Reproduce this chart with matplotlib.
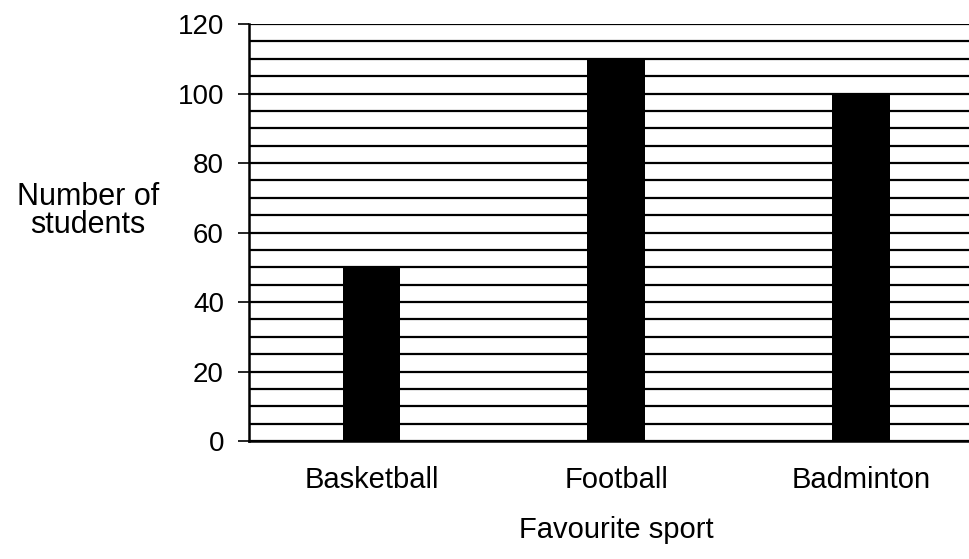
import matplotlib.pyplot as plt
import numpy as np

plt.rcParams['font.family'] = ['Liberation Sans', 'DejaVu Sans']

desportos = ["Basketball", "Football", "Badminton"]
alunos = [50, 110, 100]

fig = plt.figure(figsize=(9.7, 5.59), dpi=100)
ax = fig.add_axes([0.2567, 0.211, 0.757, 0.746])

x = np.arange(len(desportos))
ax.bar(x, alunos, width=0.235, color="black", zorder=3)

# linhas horizontais a cada 5 alunos
for v in range(0, 121, 5):
    ax.axhline(v, color="black", linewidth=1.6, zorder=2)

ax.set_xlim(-0.5, 2.5)
ax.set_ylim(0, 120)
ax.set_yticks(range(0, 121, 20))
ax.set_xticks(x)
ax.set_xticklabels(desportos)
ax.tick_params(axis="y", length=8, width=1.2, pad=10, labelsize=20)
ax.tick_params(axis="x", length=0, pad=18, labelsize=21)

for lado in ["top", "right"]:
    ax.spines[lado].set_visible(False)
ax.spines["left"].set_linewidth(1.8)
ax.spines["bottom"].set_linewidth(1.8)

ax.set_xlabel("Favourite sport", fontsize=21, labelpad=16)
fig.text(88 / 970, 1 - 211 / 559, "Number of\nstudents", fontsize=22,
         ha="center", va="center", linespacing=0.95)

plt.savefig("out.png", dpi=100)
